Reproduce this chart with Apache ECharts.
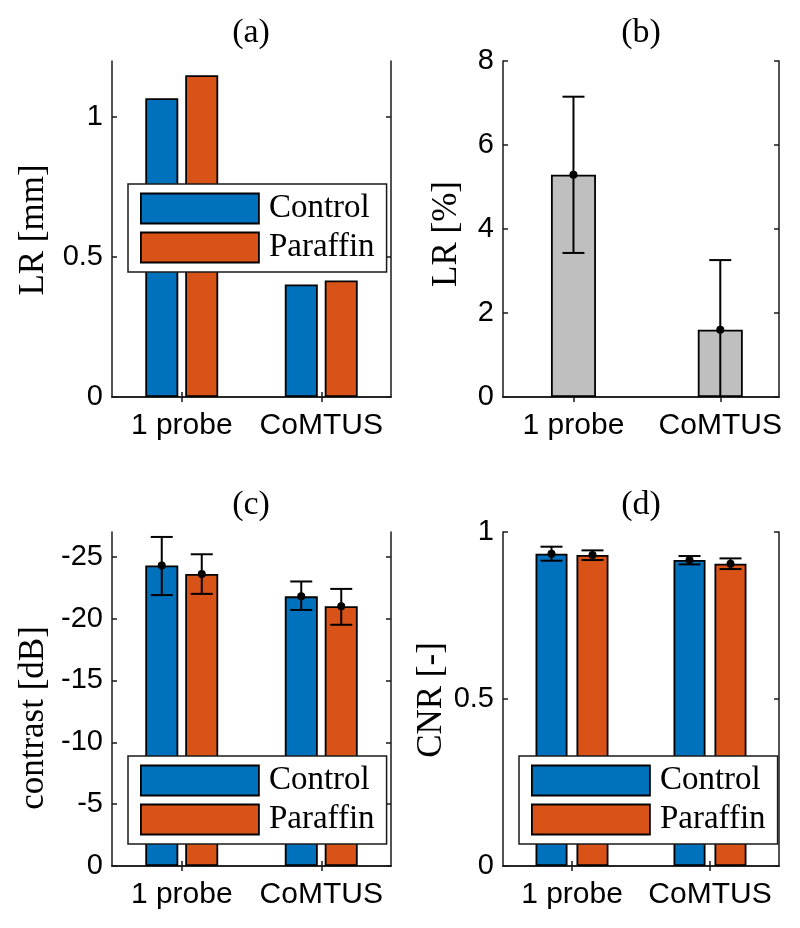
<!DOCTYPE html>
<html>
<head>
<meta charset="utf-8">
<script src="https://cdn.jsdelivr.net/npm/echarts@6/dist/echarts.min.js"></script>
<style>
  html, body { margin: 0; padding: 0; background: #fff; }
  #main { width: 800px; height: 928px; }
</style>
</head>
<body>
<div id="main"></div>
<script>
var categories = ['1 probe', 'CoMTUS'];

// (a) LR [mm]
var lrMmControl = [1.067, 0.402];
var lrMmParaffin = [1.149, 0.416];
var ticksA = [0, 0.5, 1];

// (b) LR [%]  (mean, low, high)
var lrPct = [5.29, 1.60];
var lrPctLow = [3.43, -0.1];
var lrPctHigh = [7.15, 3.26];
var ticksB = [0, 2, 4, 6, 8];

// (c) contrast [dB]
var contrastControl = [-24.3, -21.8];
var contrastControlLow = [-26.6, -23.0];
var contrastControlHigh = [-21.9, -20.7];
var contrastParaffin = [-23.6, -21.0];
var contrastParaffinLow = [-25.2, -22.4];
var contrastParaffinHigh = [-22.0, -19.5];
var ticksC = [-25, -20, -15, -10, -5, 0];

// (d) CNR [-]
var cnrControl = [0.935, 0.916];
var cnrControlLow = [0.914, 0.903];
var cnrControlHigh = [0.956, 0.928];
var cnrParaffin = [0.931, 0.905];
var cnrParaffinLow = [0.916, 0.889];
var cnrParaffinHigh = [0.945, 0.921];
var ticksD = [0, 0.5, 1];

var BLUE = '#0072BD', ORANGE = '#D95319', GRAY = '#BFBFBF', INK = '#1a1a1a';
var SANS = 'Liberation Sans', SERIF = 'Liberation Serif';

var chart = echarts.init(document.getElementById('main'));

var grids = [
  { left: 112, top: 61, width: 279, height: 336 },
  { left: 503, top: 61, width: 276, height: 336 },
  { left: 112, top: 532, width: 279, height: 334 },
  { left: 503, top: 532, width: 276, height: 334 }
];

function catAxis(gi, pos) {
  return {
    type: 'category', gridIndex: gi, position: pos, data: categories,
    boundaryGap: true,
    axisLine: { show: true, lineStyle: { color: INK, width: 1.5 } },
    axisTick: { show: true, inside: true, length: 5, alignWithLabel: true, lineStyle: { color: INK, width: 1.5 } },
    axisLabel: { show: pos === 'bottom', interval: 0, color: '#000', fontFamily: SANS, fontSize: 30, margin: 14 },
    splitLine: { show: false }
  };
}

function valXAxis(gi, pos) {
  return {
    type: 'value', gridIndex: gi, position: pos, min: 0.52, max: 2.4,
    axisLine: { show: true, lineStyle: { color: INK, width: 1.5 } },
    axisTick: { show: true, inside: true, length: 5, customValues: [1, 2], lineStyle: { color: INK, width: 1.5 } },
    axisLabel: {
      show: pos === 'bottom', customValues: [1, 2], color: '#000', fontFamily: SANS, fontSize: 30, margin: 14,
      formatter: function (v) { return categories[Math.round(v) - 1]; }
    },
    splitLine: { show: false }
  };
}

function valYAxis(gi, pos, min, max, ticks, inverse) {
  return {
    type: 'value', gridIndex: gi, position: pos, min: min, max: max, inverse: !!inverse,
    axisLine: { show: true, lineStyle: { color: INK, width: 1.5 } },
    axisTick: { show: true, inside: true, length: 5, customValues: ticks, lineStyle: { color: INK, width: 1.5 } },
    axisLabel: { show: pos === 'left', customValues: ticks, color: '#000', fontFamily: SANS, fontSize: 29, margin: 9 },
    splitLine: { show: false }
  };
}

function barSeries(name, color, xi, yi, values, width, gap) {
  return {
    name: name, type: 'bar', xAxisIndex: xi, yAxisIndex: yi, data: values,
    barWidth: width, barGap: gap,
    itemStyle: { color: color, borderColor: '#000', borderWidth: 1.8 },
    emphasis: { disabled: true }, z: 2
  };
}

function errRender(offset, cap) {
  return function (params, api) {
    var x = api.value(0);
    var pLo = api.coord([x, api.value(1)]);
    var pHi = api.coord([x, api.value(2)]);
    var pM = api.coord([x, api.value(3)]);
    var cs = params.coordSys;
    var cx = pLo[0] + offset, h = cap / 2;
    var bottom = cs.y + cs.height, top = cs.y;
    var st = { stroke: '#000', lineWidth: 2 };
    var yLo = Math.min(Math.max(pLo[1], top), bottom);
    var yHi = Math.min(Math.max(pHi[1], top), bottom);
    var kids = [
      { type: 'line', shape: { x1: cx, y1: yLo, x2: cx, y2: yHi }, style: st }
    ];
    if (pHi[1] >= top && pHi[1] <= bottom) kids.push({ type: 'line', shape: { x1: cx - h, y1: pHi[1], x2: cx + h, y2: pHi[1] }, style: st });
    if (pLo[1] >= top && pLo[1] <= bottom) kids.push({ type: 'line', shape: { x1: cx - h, y1: pLo[1], x2: cx + h, y2: pLo[1] }, style: st });
    kids.push({ type: 'circle', shape: { cx: cx, cy: pM[1], r: 4 }, style: { fill: '#000' } });
    return { type: 'group', children: kids };
  };
}

function errSeries(xi, yi, xs, lows, highs, means, offset) {
  var data = xs.map(function (x, i) { return [x, lows[i], highs[i], means[i]]; });
  return {
    type: 'custom', name: 'err', xAxisIndex: xi, yAxisIndex: yi, data: data,
    encode: { x: 0, y: [1, 2] }, renderItem: errRender(offset, 22), z: 5, silent: true
  };
}

function legendAt(left, top) {
  return {
    orient: 'vertical', left: left, top: top, data: ['Control', 'Paraffin'],
    icon: 'rect', itemWidth: 118, itemHeight: 30, itemGap: 6,
    padding: [8, 12, 8, 12], borderColor: INK, borderWidth: 1.5, backgroundColor: '#fff',
    itemStyle: { borderColor: '#000', borderWidth: 1.8 },
    textStyle: { fontFamily: SERIF, fontSize: 33, color: '#000', padding: [0, 0, 0, 5] },
    selectedMode: false, z: 10
  };
}

function label(text, x, y, rot, size) {
  return {
    type: 'text', x: x, y: y, rotation: rot ? Math.PI / 2 : 0, silent: true,
    style: { text: text, fill: '#000', font: size + 'px "' + SERIF + '"', textAlign: 'center', textVerticalAlign: 'middle' }
  };
}

var idx = [0, 1];
var bx = [1, 2];

chart.setOption({
  animation: false,
  backgroundColor: '#fff',
  grid: grids,
  xAxis: [
    catAxis(0, 'bottom'), catAxis(0, 'top'),
    valXAxis(1, 'bottom'), valXAxis(1, 'top'),
    catAxis(2, 'bottom'), catAxis(2, 'top'),
    catAxis(3, 'bottom'), catAxis(3, 'top')
  ],
  yAxis: [
    valYAxis(0, 'left', 0, 1.2, ticksA), valYAxis(0, 'right', 0, 1.2, ticksA),
    valYAxis(1, 'left', 0, 8, ticksB), valYAxis(1, 'right', 0, 8, ticksB),
    valYAxis(2, 'left', -27, 0, ticksC, true), valYAxis(2, 'right', -27, 0, ticksC, true),
    valYAxis(3, 'left', 0, 1, ticksD), valYAxis(3, 'right', 0, 1, ticksD)
  ],
  legend: [legendAt(128, 184), legendAt(128, 756), legendAt(519, 756)],
  series: [
    barSeries('Control', BLUE, 0, 0, lrMmControl, 33, '21%'),
    barSeries('Paraffin', ORANGE, 0, 0, lrMmParaffin, 33, '21%'),

    {
      name: 'LR', type: 'bar', xAxisIndex: 2, yAxisIndex: 2, barWidth: 45,
      data: bx.map(function (x, i) { return [x, lrPct[i]]; }),
      itemStyle: { color: GRAY, borderColor: '#000', borderWidth: 1.8 }, emphasis: { disabled: true }
    },
    errSeries(2, 2, bx, lrPctLow, lrPctHigh, lrPct, 0),

    barSeries('Control', BLUE, 4, 4, contrastControl, 33, '21%'),
    barSeries('Paraffin', ORANGE, 4, 4, contrastParaffin, 33, '21%'),
    errSeries(4, 4, idx, contrastControlLow, contrastControlHigh, contrastControl, -20),
    errSeries(4, 4, idx, contrastParaffinLow, contrastParaffinHigh, contrastParaffin, 20),

    barSeries('Control', BLUE, 6, 6, cnrControl, 32, '28%'),
    barSeries('Paraffin', ORANGE, 6, 6, cnrParaffin, 32, '28%'),
    errSeries(6, 6, idx, cnrControlLow, cnrControlHigh, cnrControl, -20.5),
    errSeries(6, 6, idx, cnrParaffinLow, cnrParaffinHigh, cnrParaffin, 20.5)
  ],
  graphic: [
    label('(a)', 251, 33, false, 34), label('(b)', 641, 33, false, 34),
    label('(c)', 251, 505, false, 34), label('(d)', 641, 505, false, 34),
    label('LR [mm]', 34, 230, true, 35),
    label('LR [%]', 447, 234, true, 35),
    label('contrast [dB]', 34, 718, true, 35),
    label('CNR [-]', 432, 700, true, 35)
  ]
});
</script>
</body>
</html>
